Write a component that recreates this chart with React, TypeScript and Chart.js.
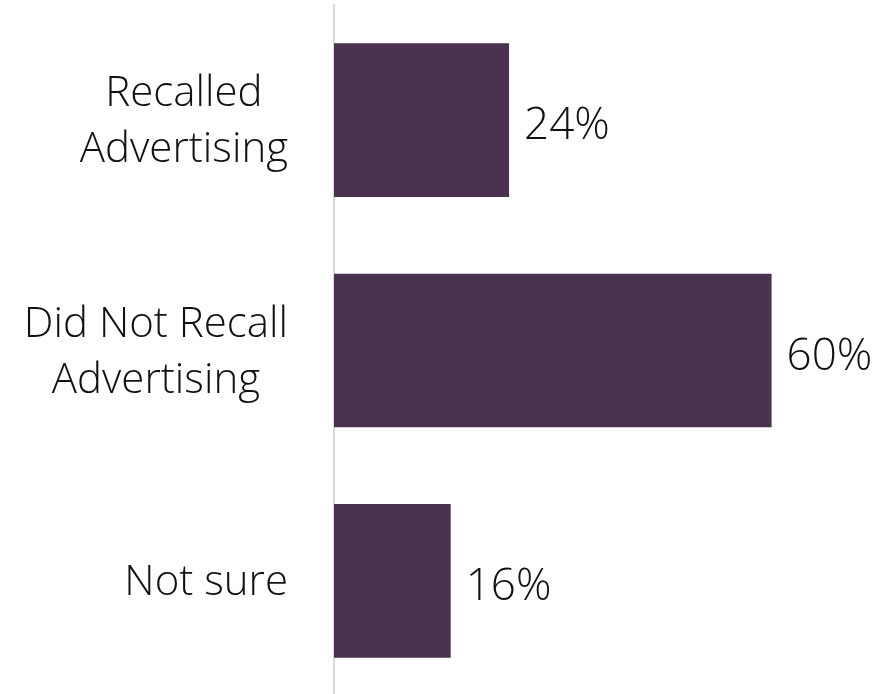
import React, { useEffect, useRef } from "react";
import { Chart, registerables } from "chart.js";

Chart.register(...registerables);

const categories: string[][] = [
  ["Recalled", "Advertising"],
  ["Did Not Recall", "Advertising"],
  ["Not sure"],
];
const values: number[] = [24, 60, 16];
const valueLabels: string[] = ["24%", "60%", "16%"];

const BAR_COLOR = "#4b3250";
const TEXT_COLOR = "#111111";
const FONT_FAMILY = "'Open Sans'";
const FONT_WEIGHT = 300;
const LABEL_SIZE = 42;
const VALUE_SIZE = 44;

const labelPlugin = {
  id: "customLabels",
  afterDraw(chart: any) {
    const ctx = chart.ctx;
    const yScale = chart.scales.y;
    ctx.save();
    ctx.fillStyle = TEXT_COLOR;
    // category labels: block right-aligned, lines centred in block
    ctx.font = `${FONT_WEIGHT} ${LABEL_SIZE}px ${FONT_FAMILY}`;
    ctx.textBaseline = "alphabetic";
    ctx.textAlign = "center";
    const rightEdge = 288;
    const lineGap = 56;
    categories.forEach((lines, i) => {
      const y = yScale.getPixelForTick(i);
      const w = Math.max(...lines.map((l) => ctx.measureText(l).width));
      const cx = rightEdge - w / 2;
      const n = lines.length;
      lines.forEach((line, j) => {
        ctx.fillText(line, cx, y + (j - (n - 1) / 2) * lineGap + 14);
      });
    });
    // value labels
    ctx.font = `${FONT_WEIGHT} ${VALUE_SIZE}px ${FONT_FAMILY}`;
    ctx.textAlign = "left";
    const meta = chart.getDatasetMeta(0);
    meta.data.forEach((bar: any, i: number) => {
      ctx.fillText(valueLabels[i], bar.x + 15, bar.y + 19);
    });
    ctx.restore();
  },
};

export default function App() {
  const ref = useRef<HTMLCanvasElement>(null);
  useEffect(() => {
    const chart = new Chart(ref.current!, {
      type: "bar",
      data: {
        labels: categories.map((c) => c.join(" ")),
        datasets: [
          {
            data: values,
            backgroundColor: BAR_COLOR,
            borderWidth: 0,
            barPercentage: 0.667,
            categoryPercentage: 1,
          },
        ],
      },
      options: {
        indexAxis: "y",
        animation: false,
        responsive: true,
        maintainAspectRatio: false,
        layout: { padding: { top: 5, bottom: 4, left: 0, right: 0 } },
        plugins: {
          legend: { display: false },
          tooltip: { enabled: false },
        },
        scales: {
          x: { display: false, min: 0, max: 75 },
          y: {
            grid: { display: false },
            border: { display: true, color: "#d9d9d9", width: 2 },
            ticks: { display: false },
            afterFit(scale: any) {
              scale.width = 334;
            },
          },
        },
      },
      plugins: [labelPlugin],
    });
    return () => chart.destroy();
  }, []);
  return (
    <div
      style={{
        position: "absolute",
        left: 0,
        top: 0,
        width: 881,
        height: 694,
        overflow: "hidden",
        background: "#ffffff",
      }}
    >
      <div style={{ position: "relative", width: 881, height: 700 }}>
        <canvas ref={ref} />
      </div>
    </div>
  );
}
